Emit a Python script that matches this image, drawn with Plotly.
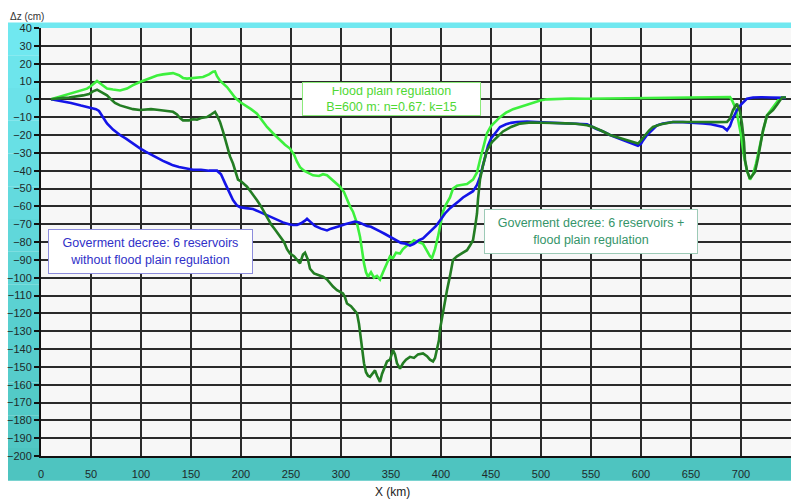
import plotly.graph_objects as go

# ---------------- data ----------------
blue_x = [10,20,30,40,50,55,58,62,66,72,79,85,92,99,105,110,116,122,128,132,138,146,152,160,168,176,180,184,188,192,196,199,205,212,218,226,232,238,242,248,252,256,260,264,266,270,274,280,286,290,294,299,304,310,314,318,322,326,330,334,339,344,350,355,360,365,369,373,378,382,386,390,395,399,404,409,414,418,422,427,432,436,439,442,444,447,450,454,459,465,470,476,486,496,505,512,519,528,536,542,546,550,555,562,569,576,583,590,597,600,602,606,611,616,622,632,642,652,662,670,676,682,686,689,691,694,696,700,703,706,712,720,730,739,745]
blue_y = [0,-1,-2,-3.5,-5,-5.5,-6.5,-10,-13.5,-17,-20,-22,-25,-27.5,-29.5,-31,-33,-34.5,-36,-37,-38,-39,-39.5,-39.5,-40,-40,-42,-47,-52,-56.5,-59.5,-60.5,-61,-61.5,-63,-65,-66.5,-68,-69,-70,-70.5,-70.5,-69.5,-68,-67,-69,-71,-72.5,-73.5,-72.5,-72,-71,-70,-69,-68.5,-69,-70,-71,-71.5,-72.5,-74,-75.5,-77.5,-79,-80.5,-81,-82,-81,-79,-78,-76,-74,-71,-68,-64,-61,-59,-57,-55,-53,-51.5,-48,-43.5,-37,-32,-26,-22,-19,-15.5,-14,-13.2,-12.7,-12.5,-12.8,-13,-13.2,-13.3,-13.5,-13.4,-13.6,-14,-15,-16.5,-18,-20,-21.5,-23,-24.5,-26,-25,-23,-20,-17,-14.6,-13.5,-12.7,-12.8,-13,-13.5,-14,-14.6,-15.5,-17.4,-15,-11.8,-8.5,-6,-3,-1,0.4,1,1.2,1,1,0.8]

light_x = [10,16,22,28,32,38,42,46,50,53,56,59,62,66,72,79,86,92,99,105,110,116,122,128,132,138,142,146,150,156,162,168,172,174,176,179,182,186,190,194,199,205,210,216,220,226,232,239,244,249,253,256,259,263,268,272,278,282,286,290,295,299,303,306,309,312,316,319,321,323,325,327,330,333,336,339,342,345,349,352,355,359,362,366,369,373,377,382,386,389,391,394,397,399,402,405,409,412,416,420,426,432,436,439,442,446,450,455,459,465,472,479,486,494,500,506,515,530,545,560,580,600,620,640,660,680,686,689,691,693,696,700,703,706,709,712,715,718,722,726,730,734,738,741,745]
light_y = [0,1,2,3,3.5,4.5,5,6,7.5,9,10.3,9,7.5,6,5.5,5,6,8,9.7,11,12.5,13.4,14,14.5,14.7,13.5,12,11.6,11.8,12,12.5,14,15.5,15.7,13,10.5,8.8,6.9,4,1,-1.5,-3.5,-5.5,-8,-11,-15.5,-19,-23,-25.5,-27.6,-31,-35,-38,-40,-41.5,-42.6,-43,-42,-42.6,-44.5,-47,-49,-52,-56.6,-60,-63,-69.6,-77,-85,-92,-97,-99.5,-97,-100,-99,-101,-97,-93,-88,-89,-86,-86.5,-84,-82,-81,-79,-80,-81,-85,-88,-89,-84,-77,-71.5,-63,-59,-55,-50,-48.5,-48,-47.5,-45,-41,-34,-27,-19,-15,-12,-10,-7.5,-5.5,-4.3,-3,-1.5,-0.5,0,0.3,0.5,0.3,0.4,0.5,0.5,0.6,0.7,0.8,1,1.3,1.3,-0.5,-3,-8,-20,-32,-40,-45,-42,-36,-28,-18,-9,-6,-3,0,1,1]

dark_x = [10,16,22,28,32,38,42,48,52,56,60,63,66,70,74,79,85,92,99,105,110,116,122,128,132,136,139,142,148,152,156,160,166,170,174,176,179,182,186,189,192,194,197,200,203,206,210,213,216,220,223,226,230,234,239,243,246,249,253,256,259,262,264,267,269,273,278,282,286,289,292,296,300,302,304,306,310,313,316,318,319,321,323,325,327,329,331,334,336,339,341,343,346,349,352,354,356,359,362,365,369,373,377,382,386,389,392,394,396,398,399,401,403,406,409,412,416,420,426,429,432,434,436,437,439,442,446,451,456,462,470,479,490,500,512,525,535,546,552,560,569,578,587,594,597,600,604,608,612,620,632,645,660,675,686,689,692,696,699,701,703,704,706,709,711,714,717,720,722,726,729,732,736,741,745]
dark_y = [0,0.5,0.8,1,1.3,1.8,2.2,3,4.5,5.4,4,3,2.2,0,-2,-3.4,-4.5,-5.5,-6,-5.8,-5.5,-5.8,-6.2,-6.5,-7,-8.5,-10.5,-11.8,-11.8,-11.2,-11.4,-10.5,-9.9,-8.5,-7,-9,-12.7,-18,-26,-32,-36,-40,-45,-46,-47.5,-49,-52,-54,-56.6,-60,-63,-66,-70,-73,-77,-80,-84,-86.5,-88,-90,-92,-87,-86,-90,-95,-97.6,-98.5,-99.5,-101,-103,-105,-107,-108,-108.8,-111,-114.5,-116,-118,-120,-126,-131,-140,-148,-153,-155,-155.6,-154,-152,-155,-158.4,-154,-151,-147,-146,-140.6,-143,-148,-151,-148,-146,-144.4,-145,-143,-142.5,-144,-146,-147,-145,-140.6,-135,-129,-122,-115,-107,-99,-90,-88,-86.5,-84.6,-82,-79,-72,-64,-56,-45,-37,-28.6,-24,-21,-18,-15.5,-13.6,-13,-13,-13.3,-13.5,-13.7,-14.5,-15.5,-17.5,-20,-21.5,-23,-24.5,-24.8,-23,-20,-17.5,-15.5,-14,-12.7,-12.6,-12.7,-12.8,-12.7,-10.8,-6,-2.4,-7,-13.6,-24,-34,-40,-44.4,-43,-40.7,-33,-24,-17.4,-9,-7.5,-6,-3,1,1]

x_ticks = list(range(0, 751, 50))
y_ticks = list(range(-200, 41, 10))

label_light = "Flood plain regulation<br>B=600 m; n=0.67; k=15"
label_blue = "Goverment decree: 6 reservoirs<br>without flood plain regulation"
label_dark = "Goverment decree: 6 reservoirs +<br>flood plain regulation"

# ---------------- figure ----------------
fig = go.Figure()
fig.add_trace(go.Scatter(x=light_x, y=light_y, mode="lines",
                         line=dict(color="#3DF03D", width=2.6), hoverinfo="skip"))
fig.add_trace(go.Scatter(x=blue_x, y=blue_y, mode="lines",
                         line=dict(color="#1414E8", width=2.6), hoverinfo="skip"))
fig.add_trace(go.Scatter(x=dark_x, y=dark_y, mode="lines",
                         line=dict(color="#237D23", width=2.6), hoverinfo="skip"))

# cyan gradient panel (behind)
shapes = []
n = 14
top_c = (112, 232, 240)
bot_c = (78, 196, 192)
y_top, y_bot = 1.013, -0.058
for i in range(n):
    t = i / (n - 1)
    c = tuple(int(round(top_c[k] + (bot_c[k] - top_c[k]) * t)) for k in range(3))
    ya = y_top - (y_top - y_bot) * i / n
    yb = y_top - (y_top - y_bot) * (i + 1) / n
    shapes.append(dict(type="rect", xref="paper", yref="paper", x0=-0.044, x1=1.01,
                       y0=yb, y1=ya, fillcolor="rgb(%d,%d,%d)" % c,
                       line=dict(width=0), layer="below"))
# plot area background
shapes.append(dict(type="rect", xref="paper", yref="paper", x0=0, x1=1, y0=0, y1=1,
                   fillcolor="#F7F7F7", line=dict(width=0), layer="below"))

tick_font = dict(family="Liberation Sans, Arial, sans-serif", size=11, color="#1E2A2A")

fig.update_layout(
    width=791, height=499,
    margin=dict(l=41, r=0, t=28, b=43),
    paper_bgcolor="white",
    plot_bgcolor="rgba(0,0,0,0)",
    showlegend=False,
    shapes=shapes,
    xaxis=dict(range=[0, 750], tickvals=x_ticks, showgrid=True, gridcolor="#2A2A2A",
               gridwidth=1.7, zeroline=False, showline=True, linecolor="#111",
               linewidth=2, ticks="outside", ticklen=7, tickcolor="rgba(0,0,0,0)",
               tickfont=tick_font, fixedrange=True, automargin=False),
    yaxis=dict(range=[-200, 40], tickvals=y_ticks, showgrid=True, gridcolor="#2A2A2A",
               gridwidth=1.7, zeroline=False, showline=True, linecolor="#111",
               linewidth=2, ticks="outside", ticklen=5, tickcolor="#111", tickwidth=1.5,
               tickfont=tick_font, fixedrange=True, automargin=False),
    annotations=[
        dict(text="Δz (cm)", xref="paper", yref="paper", x=-0.044, y=1.027,
             xanchor="left", yanchor="middle", showarrow=False,
             font=dict(family="Liberation Sans, Arial", size=10, color="#333")),
        dict(text="X (km)", xref="paper", yref="paper", x=0.469, y=-0.084,
             xanchor="center", yanchor="middle", showarrow=False,
             font=dict(family="Liberation Sans, Arial", size=12, color="#222")),
        dict(text=label_light, x=350.7, y=0, xref="x", yref="y", showarrow=False,
             font=dict(family="Liberation Sans, Arial", size=12.5, color="#4FD834"),
             bgcolor="white", bordercolor="#8BEA7A", borderwidth=1, borderpad=4,
             width=169, height=24, align="center"),
        dict(text=label_blue, x=109, y=-85.5, xref="x", yref="y", showarrow=False,
             font=dict(family="Liberation Sans, Arial", size=12.5, color="#3030C8"),
             bgcolor="white", bordercolor="#8C8CDC", borderwidth=1, borderpad=5,
             width=193, height=33, align="center"),
        dict(text=label_dark, x=549.8, y=-74.3, xref="x", yref="y", showarrow=False,
             font=dict(family="Liberation Sans, Arial", size=12.5, color="#35956A"),
             bgcolor="white", bordercolor="#9CCAB6", borderwidth=1, borderpad=5,
             width=202, height=33, align="center"),
    ],
)

fig.write_html("out.html", config={"displayModeBar": False},
               post_script="document.body.style.margin='0';document.body.style.overflow='hidden';")
